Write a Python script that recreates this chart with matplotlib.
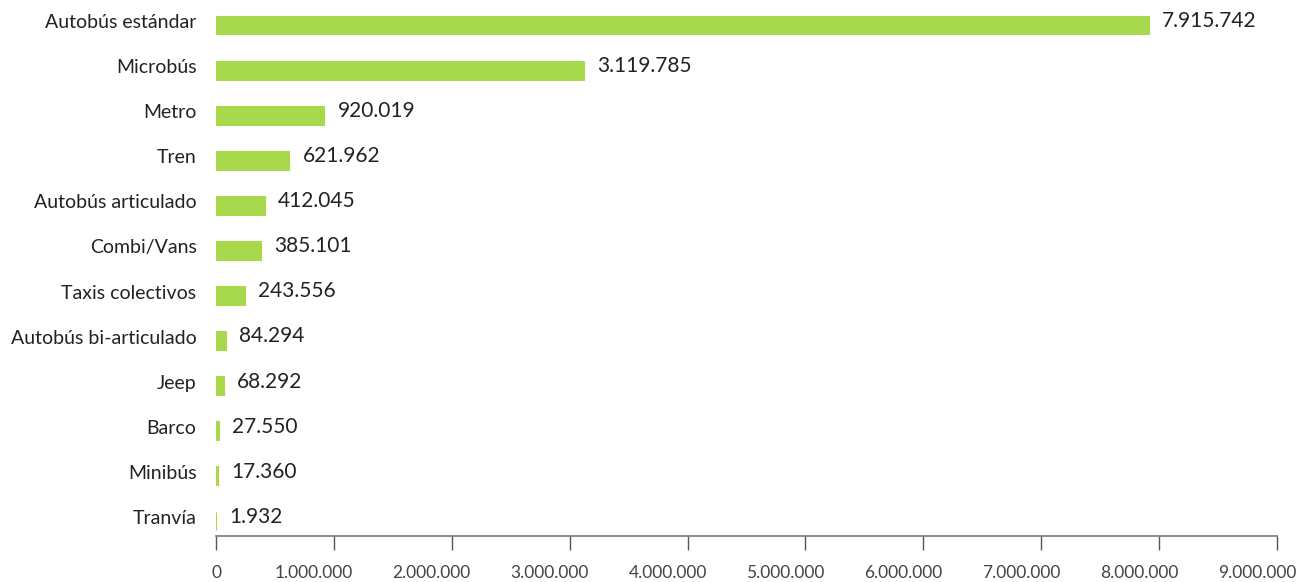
import matplotlib
matplotlib.use("Agg")
import matplotlib.pyplot as plt
from matplotlib.ticker import FuncFormatter
from matplotlib.transforms import ScaledTranslation

categories = ["Autobús estándar", "Microbús", "Metro", "Tren", "Autobús articulado",
              "Combi/Vans", "Taxis colectivos", "Autobús bi-articulado", "Jeep",
              "Barco", "Minibús", "Tranvía"]
values = [7915742, 3119785, 920019, 621962, 412045, 385101, 243556, 84294, 68292,
          27550, 17360, 1932]
xticks = [0, 1000000, 2000000, 3000000, 4000000, 5000000, 6000000, 7000000, 8000000, 9000000]

def fmt(v):
    return f"{int(v):,}".replace(",", ".")

plt.rcParams['font.family'] = ['Lato', 'DejaVu Sans']

fig = plt.figure(figsize=(13.09, 5.82), dpi=100)
ax = fig.add_axes([216/1309, 46/582, (1277-216)/1309, 536/582])

ypos = list(range(len(categories)))
ax.barh(ypos, values, height=0.42, color="#a8d84b", edgecolor="#a8d84b", linewidth=0.8)
for y, v in zip(ypos, values):
    ax.annotate(fmt(v), (v, y), xytext=(9.5, 3), textcoords="offset points",
                ha="left", va="center", fontsize=15, color="#222222")

ax.set_ylim(11 + 15/45.09, -25/45.09)
ax.set_xlim(0, 9000000)
ax.set_yticks(ypos)
ax.set_yticklabels(categories, fontsize=14, color="#222222")
ax.tick_params(axis="y", length=0, pad=14)
ax.set_xticks(xticks)
ax.xaxis.set_major_formatter(FuncFormatter(lambda v, p: fmt(v)))
ax.tick_params(axis="x", direction="out", length=10, width=1, color="#555555",
               labelsize=12.5, labelcolor="#444444", pad=11)
for s in ["top", "right", "left"]:
    ax.spines[s].set_visible(False)
ax.spines["bottom"].set_color("#777777")
ax.spines["bottom"].set_linewidth(1.2)

shift = ScaledTranslation(-20/100, 0, fig.dpi_scale_trans)
for lbl in ax.get_xticklabels()[1:]:
    lbl.set_transform(lbl.get_transform() + shift)
up = ScaledTranslation(0, 4/100, fig.dpi_scale_trans)
for lbl in ax.get_yticklabels():
    lbl.set_transform(lbl.get_transform() + up)

fig.savefig("out.png", dpi=100)
